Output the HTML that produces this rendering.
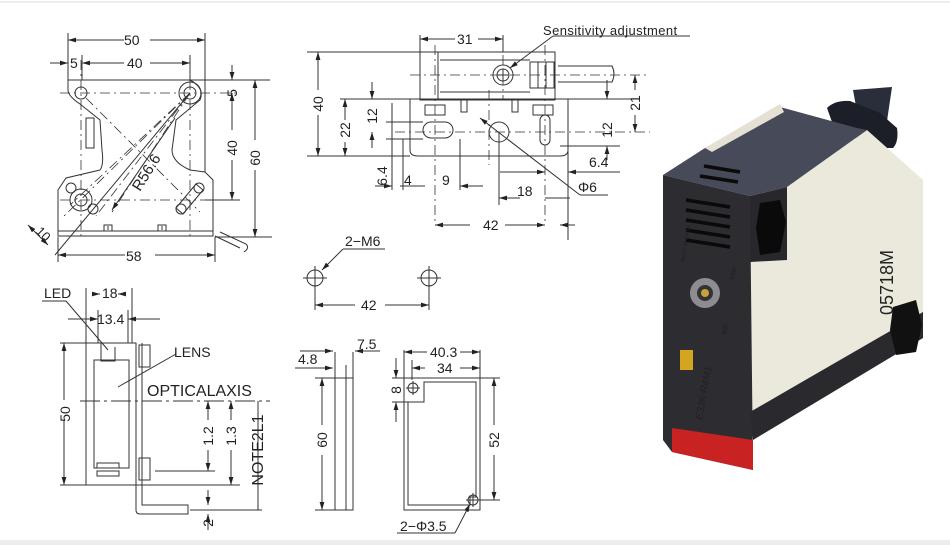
<!DOCTYPE html>
<html><head><meta charset="utf-8"><style>
html,body{margin:0;padding:0;background:#fff;}
svg{display:block;}
text{font-family:"Liberation Sans",sans-serif;fill:#222;}
</style></head><body>
<svg width="950" height="545" viewBox="0 0 950 545" xmlns="http://www.w3.org/2000/svg">
<defs>
<marker id="a" viewBox="0 0 10 6" refX="10" refY="3" markerWidth="8" markerHeight="5" orient="auto-start-reverse" markerUnits="userSpaceOnUse"><path d="M0,0L10,3L0,6z" fill="#222"/></marker>
</defs>
<rect x="0" y="0" width="950" height="545" fill="#fff"/>
<line x1="0" y1="2" x2="950" y2="2" stroke="#eee" stroke-width="2"/>
<rect x="0" y="540" width="950" height="5" fill="#ececec"/>

<g stroke="#333" stroke-width="1" fill="none">
<path d="M68,80 H205 V172 L213,180 V236 H58 V190 L66,178 L100,170 Q104,165 102,150 L100,120 L80,104 Q68,96 68,90 Z"/>
<path d="M190,80 Q205,88 200,100 L176,120 L172,150 Q172,162 190,170 L205,172"/>
<line x1="58" y1="231" x2="213" y2="231"/>
<rect x="86" y="118" width="8" height="30"/>
<circle cx="81" cy="93" r="6"/><circle cx="190" cy="93" r="6"/><circle cx="190" cy="93" r="11"/>
<circle cx="81" cy="200" r="6"/><circle cx="81" cy="200" r="11"/>
<circle cx="71" cy="188" r="5"/><circle cx="93" cy="209" r="5"/>
<circle cx="181" cy="209" r="5"/><circle cx="199" cy="188" r="5"/>
<path d="M176,208 L196,184 L203,190 L183,214 Z"/>
<path d="M108,226 V230 M104,225 H112 V231 H104 Z M162,226 V230 M158,225 H166 V231 H158 Z"/>
<path d="M215,236 L240,248 M220,232 L246,244 Q250,248 244,252"/>
<g stroke-dasharray="10,4,2,4" stroke-width="0.8">
<line x1="60" y1="93" x2="240" y2="93"/><line x1="60" y1="200" x2="240" y2="200"/>
<line x1="81" y1="60" x2="81" y2="240"/><line x1="190" y1="60" x2="190" y2="240"/>
<line x1="86" y1="98" x2="200" y2="212"/>
<line x1="190" y1="93" x2="62" y2="218"/><line x1="190" y1="93" x2="70" y2="205"/><line x1="190" y1="93" x2="96" y2="216"/><line x1="190" y1="93" x2="112" y2="212"/>
</g>
<line x1="190" y1="93" x2="55" y2="255"/>
<line x1="175" y1="118" x2="112" y2="210" marker-end="url(#a)"/>
<line x1="28" y1="225" x2="48" y2="245" marker-start="url(#a)" marker-end="url(#a)"/>
<line x1="68" y1="33" x2="68" y2="80"/><line x1="205" y1="33" x2="205" y2="80"/>
<line x1="68" y1="40" x2="124" y2="40" marker-start="url(#a)"/><line x1="150" y1="40" x2="205" y2="40" marker-end="url(#a)"/>
<line x1="82" y1="55" x2="82" y2="80"/><line x1="190" y1="55" x2="190" y2="80"/>
<line x1="50" y1="63" x2="68" y2="63" marker-end="url(#a)"/>
<line x1="82" y1="63" x2="124" y2="63" marker-start="url(#a)"/><line x1="150" y1="63" x2="190" y2="63" marker-end="url(#a)"/>
<line x1="205" y1="80" x2="270" y2="80"/><line x1="205" y1="200" x2="240" y2="200"/><line x1="215" y1="237" x2="272" y2="237"/>
<line x1="232" y1="65" x2="232" y2="80" marker-end="url(#a)"/>
<line x1="232" y1="93" x2="232" y2="130" marker-start="url(#a)"/><line x1="232" y1="160" x2="232" y2="200" marker-end="url(#a)"/>
<line x1="255" y1="80" x2="255" y2="140" marker-start="url(#a)"/><line x1="255" y1="170" x2="255" y2="237" marker-end="url(#a)"/>
<line x1="58" y1="237" x2="58" y2="262"/><line x1="215" y1="237" x2="215" y2="262"/>
<line x1="58" y1="255" x2="125" y2="255" marker-start="url(#a)"/><line x1="155" y1="255" x2="215" y2="255" marker-end="url(#a)"/>

<path d="M420,52 H555 V100 H420 Z" />
<rect x="420" y="52" width="18" height="48"/>
<line x1="440" y1="60" x2="530" y2="60"/><line x1="440" y1="92" x2="530" y2="92"/>
<rect x="530" y="62" width="8" height="26"/><rect x="538" y="62" width="8" height="26"/><rect x="546" y="62" width="8" height="26"/>
<circle cx="503" cy="75" r="10"/><circle cx="503" cy="75" r="6"/><path d="M497,75H509M503,69V81"/>
<path d="M558,66 H612 Q616,74 612,82 H558"/>
<path d="M410,99 H568 V150 Q568,156 560,156 H418 Q410,156 410,150 Z"/>
<rect x="425" y="105" width="20" height="10"/><rect x="533" y="105" width="20" height="10"/>
<rect x="461" y="100" width="6" height="12"/><rect x="512" y="100" width="6" height="12"/>
<rect x="423" y="122" width="30" height="16" rx="8"/>
<rect x="540" y="115" width="10" height="30" rx="5"/>
<circle cx="499" cy="132" r="10"/>
<g stroke-dasharray="10,4,2,4" stroke-width="0.8">
<line x1="410" y1="75" x2="650" y2="75"/><line x1="395" y1="132" x2="650" y2="132"/>
<line x1="435" y1="45" x2="435" y2="225"/><line x1="503" y1="35" x2="503" y2="100"/>
<line x1="545" y1="45" x2="545" y2="225"/><line x1="489" y1="90" x2="489" y2="165"/>
</g>
<line x1="553" y1="36" x2="690" y2="36"/><line x1="553" y1="36" x2="510" y2="68" marker-end="url(#a)"/>
<line x1="480" y1="118" x2="580" y2="195" marker-start="url(#a)"/><line x1="580" y1="195" x2="608" y2="195"/>
<line x1="420" y1="35" x2="420" y2="52"/><line x1="503" y1="35" x2="503" y2="52"/>
<line x1="420" y1="39" x2="455" y2="39" marker-start="url(#a)"/><line x1="478" y1="39" x2="503" y2="39" marker-end="url(#a)"/>
<line x1="307" y1="52" x2="420" y2="52"/><line x1="307" y1="156" x2="410" y2="156"/>
<line x1="318" y1="52" x2="318" y2="90" marker-start="url(#a)"/><line x1="318" y1="115" x2="318" y2="156" marker-end="url(#a)"/>
<line x1="340" y1="99" x2="410" y2="99"/>
<line x1="345" y1="99" x2="345" y2="120" marker-start="url(#a)"/><line x1="345" y1="142" x2="345" y2="156" marker-end="url(#a)"/>
<line x1="372" y1="82" x2="372" y2="99" marker-end="url(#a)"/><line x1="372" y1="132" x2="372" y2="148" marker-start="url(#a)"/>
<line x1="386" y1="122" x2="423" y2="122"/><line x1="386" y1="139" x2="423" y2="139"/>
<line x1="392" y1="103" x2="392" y2="190"/>
<line x1="403" y1="139" x2="403" y2="190"/>
<line x1="400" y1="186" x2="425" y2="186"/>
<line x1="375" y1="186" x2="392" y2="186" marker-end="url(#a)"/>
<line x1="460" y1="139" x2="460" y2="190"/>
<line x1="483" y1="186" x2="460" y2="186" marker-end="url(#a)"/>
<line x1="499" y1="132" x2="499" y2="205"/>
<line x1="499" y1="198" x2="520" y2="198" marker-start="url(#a)"/><line x1="545" y1="198" x2="570" y2="198"/>
<line x1="500" y1="172" x2="545" y2="172" marker-end="url(#a)"/>
<line x1="600" y1="172" x2="568" y2="172" marker-end="url(#a)"/><line x1="600" y1="172" x2="620" y2="172"/>
<line x1="568" y1="145" x2="568" y2="240"/>
<line x1="435" y1="225" x2="470" y2="225" marker-start="url(#a)"/><line x1="505" y1="225" x2="545" y2="225" marker-end="url(#a)"/>
<line x1="575" y1="225" x2="560" y2="225" marker-end="url(#a)"/>
<line x1="560" y1="99" x2="632" y2="99"/><line x1="560" y1="146" x2="620" y2="146"/>
<line x1="607" y1="80" x2="607" y2="99" marker-end="url(#a)"/><line x1="607" y1="146" x2="607" y2="160" marker-start="url(#a)"/>
<line x1="635" y1="75" x2="635" y2="90" marker-start="url(#a)"/><line x1="635" y1="115" x2="635" y2="132" marker-end="url(#a)"/>

<circle cx="315" cy="278" r="8"/><circle cx="429" cy="278" r="8"/>
<path d="M303,278H327M315,266V290M417,278H441M429,266V290"/>
<line x1="315" y1="290" x2="315" y2="310"/><line x1="429" y1="290" x2="429" y2="310"/>
<line x1="315" y1="305" x2="355" y2="305" marker-start="url(#a)"/><line x1="385" y1="305" x2="429" y2="305" marker-end="url(#a)"/>
<line x1="343" y1="249" x2="385" y2="249"/><line x1="343" y1="249" x2="322" y2="270" marker-end="url(#a)"/>

<rect x="86" y="343" width="50" height="142"/>
<rect x="94" y="360" width="35" height="108"/>
<path d="M101,343 V361 H115 V347"/>
<rect x="97" y="463" width="22" height="5"/><rect x="97" y="471" width="22" height="5"/>
<rect x="139" y="345" width="11" height="22"/><rect x="139" y="458" width="11" height="22"/>
<path d="M136,343 V510 Q136,514 140,514 H188 V505 H142 V343"/>
<line x1="80" y1="401" x2="270" y2="401" stroke-dasharray="20,4,3,4"/>
<line x1="155" y1="471" x2="215" y2="471"/><line x1="60" y1="343" x2="86" y2="343"/><line x1="60" y1="485" x2="240" y2="485"/>
<line x1="64" y1="343" x2="64" y2="400" marker-start="url(#a)"/><line x1="64" y1="420" x2="64" y2="485" marker-end="url(#a)"/>
<line x1="86" y1="288" x2="86" y2="343"/><line x1="132" y1="288" x2="132" y2="343"/>
<line x1="92" y1="294" x2="100" y2="294" marker-end="url(#a)"/><line x1="126" y1="294" x2="118" y2="294" marker-end="url(#a)"/>
<line x1="98" y1="310" x2="98" y2="343"/><line x1="128" y1="310" x2="128" y2="343"/>
<line x1="68" y1="319" x2="98" y2="319" marker-end="url(#a)"/><line x1="160" y1="319" x2="128" y2="319" marker-end="url(#a)"/>
<line x1="42" y1="301" x2="66" y2="301"/><line x1="66" y1="301" x2="108" y2="350"/>
<line x1="176" y1="354" x2="118" y2="387"/>
<line x1="208" y1="401" x2="208" y2="420" marker-start="url(#a)"/><line x1="208" y1="450" x2="208" y2="471" marker-end="url(#a)"/>
<line x1="231" y1="401" x2="231" y2="420" marker-start="url(#a)"/><line x1="231" y1="450" x2="231" y2="485" marker-end="url(#a)"/>
<line x1="258" y1="401" x2="258" y2="510"/>
<line x1="190" y1="510" x2="262" y2="510"/>
<line x1="208" y1="490" x2="208" y2="505" marker-end="url(#a)"/><line x1="208" y1="530" x2="208" y2="514" marker-end="url(#a)"/>

<rect x="335" y="378" width="18" height="132"/><line x1="346" y1="378" x2="346" y2="510"/>
<line x1="346" y1="365" x2="346" y2="378"/><line x1="353" y1="352" x2="353" y2="378"/><line x1="335" y1="352" x2="335" y2="378"/>
<line x1="295" y1="368" x2="333" y2="368" marker-end="url(#a)"/><line x1="300" y1="351" x2="333" y2="351" marker-end="url(#a)"/>
<line x1="355" y1="351" x2="380" y2="351" marker-start="url(#a)"/>
<line x1="315" y1="378" x2="335" y2="378"/><line x1="315" y1="510" x2="335" y2="510"/>
<line x1="322" y1="378" x2="322" y2="425" marker-start="url(#a)"/><line x1="322" y1="455" x2="322" y2="510" marker-end="url(#a)"/>

<rect x="404" y="378" width="76" height="132"/>
<path d="M424,382 H476 V497 H470 V505 H408 V402 H424 Z"/>
<circle cx="413" cy="388" r="5"/><circle cx="473" cy="500" r="5"/>
<path d="M406,388H420M413,381V395M466,500H480M473,493V507"/>
<line x1="404" y1="350" x2="404" y2="378"/><line x1="480" y1="350" x2="480" y2="378"/><line x1="412" y1="360" x2="412" y2="380"/>
<line x1="404" y1="352" x2="427" y2="352" marker-start="url(#a)"/><line x1="460" y1="352" x2="480" y2="352" marker-end="url(#a)"/>
<line x1="412" y1="368" x2="425" y2="368" marker-start="url(#a)"/><line x1="460" y1="368" x2="480" y2="368" marker-end="url(#a)"/>
<line x1="392" y1="378" x2="404" y2="378"/><line x1="392" y1="402" x2="408" y2="402"/>
<line x1="396" y1="358" x2="396" y2="378" marker-end="url(#a)"/><line x1="396" y1="422" x2="396" y2="402" marker-end="url(#a)"/>
<line x1="480" y1="378" x2="500" y2="378"/><line x1="480" y1="500" x2="500" y2="500"/>
<line x1="494" y1="378" x2="494" y2="425" marker-start="url(#a)"/><line x1="494" y1="455" x2="494" y2="500" marker-end="url(#a)"/>
<line x1="397" y1="533" x2="455" y2="533"/><line x1="455" y1="533" x2="470" y2="504" marker-end="url(#a)"/>
</g>

<g font-size="14">
<text x="124" y="45">50</text><text x="127" y="68">40</text><text x="70" y="68">5</text>
<text x="126" y="261">58</text>
<text transform="translate(237,93) rotate(-90)" text-anchor="middle">5</text>
<text transform="translate(237,148) rotate(-90)" text-anchor="middle">40</text>
<text transform="translate(260,158) rotate(-90)" text-anchor="middle">60</text>
<text transform="translate(140,192) rotate(-58)" font-size="15">R56.6</text>
<text transform="translate(35,232) rotate(45)" font-size="13">10</text>
<text x="457" y="44">31</text>
<text x="543" y="35" font-family="Liberation Serif" font-size="13" letter-spacing="0.4">Sensitivity adjustment</text>
<text transform="translate(323,104) rotate(-90)" text-anchor="middle">40</text>
<text transform="translate(350,130) rotate(-90)" text-anchor="middle">22</text>
<text transform="translate(377,116) rotate(-90)" text-anchor="middle">12</text>
<text transform="translate(387,176) rotate(-90)" text-anchor="middle">6.4</text>
<text x="404" y="185">4</text><text x="442" y="185">9</text>
<text x="517" y="196">18</text><text x="589" y="167">6.4</text>
<text x="578" y="192">Φ6</text>
<text x="483" y="230">42</text>
<text transform="translate(612,130) rotate(-90)" text-anchor="middle">12</text>
<text transform="translate(640,103) rotate(-90)" text-anchor="middle">21</text>
<text x="345" y="246">2−M6</text>
<text x="361" y="310">42</text>
<text x="44" y="298">LED</text><text x="102" y="298">18</text><text x="97" y="324">13.4</text>
<text x="174" y="357">LENS</text>
<text x="147" y="396" font-size="16">OPTICALAXIS</text>
<text transform="translate(70,414) rotate(-90)" text-anchor="middle">50</text>
<text transform="translate(213,436) rotate(-90)" text-anchor="middle">1.2</text>
<text transform="translate(236,436) rotate(-90)" text-anchor="middle">1.3</text>
<text transform="translate(263,450) rotate(-90)" text-anchor="middle" font-size="16">NOTE2L1</text>
<text transform="translate(213,523) rotate(-90)" text-anchor="middle">2</text>
<text x="298" y="364">4.8</text><text x="357" y="349">7.5</text>
<text transform="translate(327,440) rotate(-90)" text-anchor="middle">60</text>
<text x="430" y="357">40.3</text><text x="437" y="373">34</text>
<text transform="translate(401,390) rotate(-90)" text-anchor="middle">8</text>
<text transform="translate(499,440) rotate(-90)" text-anchor="middle">52</text>
<text x="400" y="531">2−Φ3.5</text>
</g>

<!-- ===== Photo ===== -->
<g>
<path d="M853,90 L892,87 L886,128 L860,128 Z" fill="#2a2d3a"/>
<path d="M827,108 Q835,100 850,101 L880,113 L897,128 Q899,142 893,148 L870,148 L832,122 Z" fill="#1c1e28"/>
<!-- side beige -->
<path d="M787,187 L867,130 L923,180 L923,312 L750,412 L750,262 Z" fill="#ebe8dc"/>
<!-- top dark face -->
<path d="M663,175 L705,148 L780,107 L857,128 L867,130 L787,187 L750,196 Z" fill="#474a58"/>
<path d="M705,148 L780,104 L784,112 L712,152 Z" fill="#e4e0d4"/>
<!-- front face -->
<path d="M663,175 L750,196 L753,470 L672,452 L663,440 Z" fill="#2c2c31"/>
<path d="M750,196 L787,187 L787,260 L750,262 Z" fill="#28282c"/>
<path d="M760,203 L780,200 L786,222 L780,252 L760,255 L756,228 Z" fill="#0a0a0a"/>
<path d="M750,412 L923,312 L923,338 L753,440 Z" fill="#2a2a2e"/>
<path d="M893,307 L916,300 L922,325 L916,352 L896,355 L890,330 Z" fill="#111"/>
<path d="M672,428 L753,440 L753,470 L672,452 Z" fill="#c82222"/>
<g stroke="#0a0a0a" stroke-width="3.5">
<line x1="704" y1="166" x2="740" y2="172"/><line x1="700" y1="176" x2="738" y2="182"/>
<line x1="686" y1="200" x2="730" y2="207"/><line x1="686" y1="210" x2="730" y2="217"/><line x1="686" y1="220" x2="730" y2="227"/><line x1="686" y1="230" x2="730" y2="237"/><line x1="686" y1="240" x2="730" y2="247"/>
</g>
<circle cx="705" cy="293" r="15" fill="#8c8c92"/><circle cx="705" cy="293" r="8" fill="#333"/><circle cx="705" cy="293" r="4" fill="#c8a040"/>
<rect x="680" y="350" width="13" height="20" fill="#d4a520"/>
<text transform="translate(893,315) rotate(-90)" font-size="18" fill="#333">05718M</text>
<text transform="translate(702,420) rotate(-80)" font-size="10" fill="#ddd" font-style="italic">E3JK-R4M1</text>
<text transform="translate(684,262) rotate(-80)" font-size="5" fill="#ccc">MADE IN CHINA</text>
<text transform="translate(734,280) rotate(-80)" font-size="7" fill="#ccc">Max</text>
<text transform="translate(726,335) rotate(-80)" font-size="7" fill="#ccc">Min</text>
</g>
</svg>
</body></html>
